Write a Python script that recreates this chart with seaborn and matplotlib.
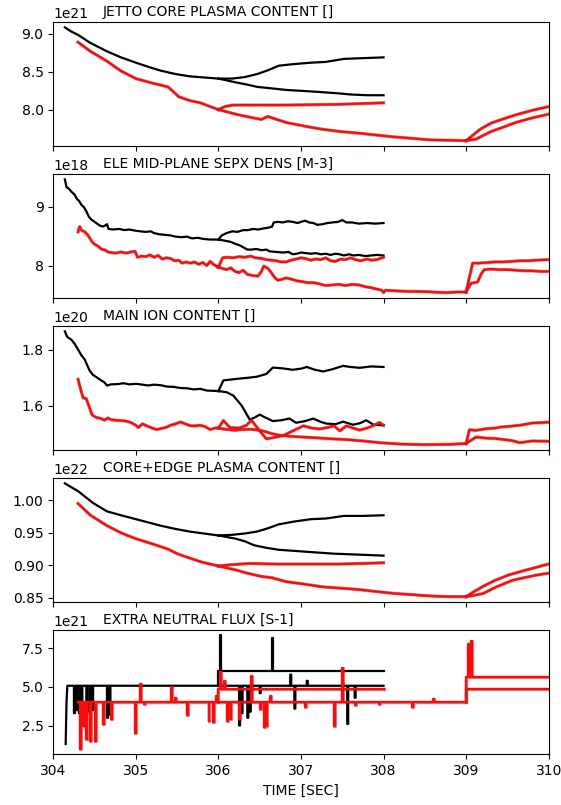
import numpy as np
import pandas as pd
import matplotlib
matplotlib.use("Agg")
import matplotlib.pyplot as plt
import matplotlib.patheffects as pe
import seaborn as sns

# ---------------- data ----------------
titles = ["JETTO CORE PLASMA CONTENT []", "ELE MID-PLANE SEPX DENS [M-3]",
          "MAIN ION CONTENT []", "CORE+EDGE PLASMA CONTENT []",
          "EXTRA NEUTRAL FLUX [S-1]"]
scales = [1e21, 1e18, 1e20, 1e22, 1e21]
xticks = [304, 305, 306, 307, 308, 309, 310]

# Panel 1: JETTO core plasma content
p1_black_base_t = [304.14, 304.22, 304.30, 304.45, 304.65, 304.82, 305.0, 305.15, 305.30, 305.48, 305.65, 305.82, 306.0]
p1_black_base_v = [9.086, 9.03, 8.987, 8.88, 8.77, 8.69, 8.62, 8.565, 8.515, 8.47, 8.44, 8.425, 8.41]
p1_black_up_t = [306.17, 306.32, 306.47, 306.6, 306.73, 306.9, 307.12, 307.3, 307.52, 307.75, 308.0]
p1_black_up_v = [8.41, 8.43, 8.47, 8.52, 8.58, 8.60, 8.62, 8.63, 8.67, 8.68, 8.69]
p1_black_low_t = [306.21, 306.35, 306.47, 306.65, 306.82, 307.05, 307.26, 307.45, 307.6, 307.8, 308.0]
p1_black_low_v = [8.36, 8.33, 8.30, 8.28, 8.26, 8.245, 8.23, 8.215, 8.20, 8.19, 8.19]
p1_red_base_t = [304.30, 304.45, 304.65, 304.82, 305.0, 305.2, 305.39, 305.45, 305.52, 305.65, 305.78, 305.9, 306.0]
p1_red_base_v = [8.89, 8.77, 8.64, 8.51, 8.41, 8.35, 8.30, 8.24, 8.17, 8.12, 8.09, 8.04, 8.0]
p1_red_up_t = [306.08, 306.17, 306.5, 306.82, 307.15, 307.47, 307.75, 308.0]
p1_red_up_v = [8.04, 8.06, 8.06, 8.06, 8.065, 8.07, 8.08, 8.09]
p1_red_low_t = [306.21, 306.38, 306.52, 306.6, 306.65, 306.82, 307.05, 307.26, 307.48, 307.69, 307.9,
                308.12, 308.35, 308.56, 308.8, 309.0]
p1_red_low_v = [7.94, 7.90, 7.87, 7.91, 7.89, 7.83, 7.78, 7.74, 7.71, 7.69, 7.665,
                7.64, 7.62, 7.60, 7.595, 7.59]
p1_red_a_t = [309.08, 309.17, 309.3, 309.43, 309.6, 309.8, 310.0]
p1_red_a_v = [7.66, 7.74, 7.82, 7.87, 7.93, 7.99, 8.04]
p1_red_b_t = [309.12, 309.21, 309.3, 309.43, 309.6, 309.8, 310.0]
p1_red_b_v = [7.61, 7.66, 7.71, 7.76, 7.83, 7.89, 7.94]

# Panel 2: electron mid-plane separatrix density
p2_black_base_t = [304.14, 304.16, 304.19, 304.22, 304.26, 304.29, 304.31, 304.34, 304.37, 304.40,
                   304.43, 304.46, 304.49, 304.52, 304.56, 304.60, 304.63, 304.65, 304.67, 304.72,
                   304.80, 304.86, 304.92, 305.0, 305.05, 305.12, 305.18, 305.22, 305.28, 305.35,
                   305.42, 305.48, 305.55, 305.62, 305.68, 305.75, 305.82, 305.9, 306.0]
p2_black_base_v = [9.46, 9.33, 9.30, 9.25, 9.20, 9.12, 9.10, 9.03, 8.99, 8.92,
                   8.83, 8.78, 8.75, 8.72, 8.68, 8.66, 8.68, 8.70, 8.62, 8.61,
                   8.62, 8.60, 8.61, 8.59, 8.58, 8.57, 8.58, 8.55, 8.53, 8.52,
                   8.51, 8.49, 8.48, 8.49, 8.46, 8.47, 8.45, 8.44, 8.44]
p2_black_up_t = [306.04, 306.1, 306.17, 306.23, 306.3, 306.36, 306.42, 306.48, 306.55, 306.6,
                 306.65, 306.67, 306.72, 306.78, 306.84, 306.90, 306.96, 307.0, 307.05, 307.1,
                 307.15, 307.2, 307.26, 307.32, 307.38, 307.45, 307.5, 307.55, 307.62, 307.7,
                 307.8, 307.9, 308.0]
p2_black_up_v = [8.51, 8.55, 8.58, 8.57, 8.60, 8.60, 8.62, 8.61, 8.63, 8.64,
                 8.66, 8.73, 8.74, 8.73, 8.75, 8.74, 8.72, 8.74, 8.76, 8.73,
                 8.72, 8.69, 8.70, 8.72, 8.73, 8.74, 8.77, 8.73, 8.73, 8.71,
                 8.72, 8.71, 8.72]
p2_black_low_t = [306.08, 306.15, 306.2, 306.26, 306.3, 306.35, 306.4, 306.46, 306.52, 306.58,
                  306.62, 306.7, 306.78, 306.85, 306.9, 306.95, 307.0, 307.06, 307.12, 307.18,
                  307.24, 307.3, 307.36, 307.42, 307.47, 307.52, 307.58, 307.64, 307.7, 307.78,
                  307.85, 307.92, 308.0]
p2_black_low_v = [8.42, 8.40, 8.37, 8.34, 8.31, 8.27, 8.27, 8.28, 8.26, 8.27,
                  8.24, 8.23, 8.22, 8.23, 8.19, 8.20, 8.22, 8.21, 8.20, 8.21,
                  8.19, 8.20, 8.18, 8.20, 8.19, 8.17, 8.19, 8.17, 8.18, 8.16,
                  8.17, 8.18, 8.17]
p2_red_base_t = [304.30, 304.32, 304.34, 304.38, 304.41, 304.44, 304.47, 304.50, 304.54, 304.58,
                 304.63, 304.66, 304.70, 304.76, 304.82, 304.88, 304.94, 304.99, 305.02, 305.07,
                 305.12, 305.17, 305.22, 305.27, 305.32, 305.37, 305.42, 305.47, 305.52, 305.56,
                 305.61, 305.66, 305.71, 305.76, 305.81, 305.86, 305.9, 305.94, 306.0]
p2_red_base_v = [8.57, 8.66, 8.60, 8.57, 8.53, 8.47, 8.40, 8.36, 8.33, 8.28,
                 8.26, 8.23, 8.22, 8.21, 8.23, 8.21, 8.23, 8.24, 8.14, 8.16,
                 8.15, 8.18, 8.14, 8.17, 8.11, 8.13, 8.12, 8.08, 8.09, 8.04,
                 8.06, 8.04, 8.06, 8.02, 8.05, 8.00, 8.07, 8.02, 7.97]
p2_red_up_t = [306.05, 306.1, 306.18, 306.25, 306.32, 306.39, 306.45, 306.52, 306.58, 306.64,
               306.7, 306.76, 306.82, 306.88, 306.94, 307.0, 307.05, 307.12, 307.18, 307.24,
               307.3, 307.36, 307.42, 307.48, 307.54, 307.6, 307.66, 307.72, 307.8, 307.86,
               307.92, 308.0]
p2_red_up_v = [8.13, 8.14, 8.13, 8.15, 8.14, 8.16, 8.13, 8.12, 8.10, 8.09,
               8.08, 8.06, 8.06, 8.09, 8.11, 8.13, 8.12, 8.09, 8.11, 8.10,
               8.13, 8.08, 8.07, 8.11, 8.10, 8.13, 8.10, 8.08, 8.11, 8.09,
               8.10, 8.14]
p2_red_low_t = [306.05, 306.1, 306.15, 306.2, 306.25, 306.3, 306.35, 306.42, 306.48, 306.52,
                306.55, 306.6, 306.64, 306.68, 306.72, 306.78, 306.82, 306.88, 306.95, 307.0,
                307.08, 307.15, 307.22, 307.3, 307.38, 307.46, 307.54, 307.62, 307.7, 307.78,
                307.86, 307.92, 307.98, 308.0, 308.02, 308.15, 308.3, 308.45, 308.6, 308.75,
                308.9, 309.0]
p2_red_low_v = [7.95, 7.93, 7.96, 7.90, 7.88, 7.92, 7.85, 7.83, 7.82, 7.90,
                7.99, 7.95, 7.88, 7.80, 7.75, 7.77, 7.79, 7.77, 7.74, 7.73,
                7.71, 7.71, 7.69, 7.66, 7.67, 7.68, 7.66, 7.68, 7.67, 7.64,
                7.62, 7.60, 7.58, 7.54, 7.58, 7.57, 7.56, 7.56, 7.55, 7.54,
                7.55, 7.55]
p2_red_a_t = [309.04, 309.08, 309.15, 309.25, 309.35, 309.45, 309.55, 309.65, 309.75, 309.85, 310.0]
p2_red_a_v = [7.80, 8.04, 8.04, 8.05, 8.06, 8.06, 8.07, 8.08, 8.08, 8.09, 8.10]
p2_red_b_t = [309.06, 309.14, 309.18, 309.22, 309.3, 309.4, 309.5, 309.6, 309.7, 309.8, 309.9, 310.0]
p2_red_b_v = [7.70, 7.72, 7.85, 7.93, 7.94, 7.93, 7.93, 7.92, 7.91, 7.91, 7.90, 7.90]

# Panel 3: main ion content
p3_black_base_t = [304.14, 304.17, 304.22, 304.26, 304.30, 304.34, 304.38, 304.41, 304.44, 304.48,
                   304.53, 304.58, 304.62, 304.65, 304.7, 304.78, 304.85, 304.92, 305.0, 305.08,
                   305.15, 305.22, 305.3, 305.38, 305.46, 305.54, 305.62, 305.7, 305.78, 305.86,
                   305.94, 306.0]
p3_black_base_v = [1.865, 1.845, 1.835, 1.82, 1.80, 1.78, 1.765, 1.745, 1.725, 1.71,
                   1.70, 1.69, 1.683, 1.672, 1.676, 1.677, 1.680, 1.676, 1.678, 1.675,
                   1.672, 1.675, 1.673, 1.668, 1.667, 1.663, 1.662, 1.658, 1.660, 1.654,
                   1.653, 1.652]
p3_black_up_t = [306.06, 306.2, 306.34, 306.46, 306.58, 306.66, 306.78, 306.9, 307.0, 307.07,
                 307.17, 307.27, 307.38, 307.51, 307.6, 307.71, 307.85, 308.0]
p3_black_up_v = [1.69, 1.695, 1.699, 1.703, 1.713, 1.736, 1.733, 1.728, 1.732, 1.738,
                 1.728, 1.722, 1.730, 1.742, 1.738, 1.735, 1.740, 1.738]
p3_black_low_t = [306.1, 306.18, 306.28, 306.38, 306.44, 306.5, 306.58, 306.66, 306.76, 306.86,
                  306.94, 307.05, 307.15, 307.24, 307.31, 307.42, 307.51, 307.63, 307.72, 307.79,
                  307.88, 308.0]
p3_black_low_v = [1.648, 1.636, 1.601, 1.55, 1.558, 1.568, 1.556, 1.545, 1.548, 1.554,
                  1.539, 1.545, 1.554, 1.542, 1.536, 1.534, 1.543, 1.532, 1.538, 1.548,
                  1.532, 1.530]
p3_red_base_t = [304.30, 304.33, 304.36, 304.40, 304.43, 304.47, 304.52, 304.57, 304.62, 304.66,
                 304.7, 304.76, 304.82, 304.88, 304.94, 305.0, 305.03, 305.08, 305.14, 305.2,
                 305.25, 305.3, 305.36, 305.42, 305.48, 305.54, 305.6, 305.66, 305.72, 305.78,
                 305.84, 305.9, 305.96, 306.0]
p3_red_base_v = [1.694, 1.66, 1.628, 1.625, 1.60, 1.567, 1.558, 1.555, 1.548, 1.556,
                 1.550, 1.548, 1.547, 1.545, 1.540, 1.530, 1.522, 1.535, 1.527, 1.520,
                 1.515, 1.518, 1.522, 1.530, 1.535, 1.542, 1.535, 1.528, 1.528, 1.530,
                 1.525, 1.515, 1.520, 1.52]
p3_red_up_t = [306.06, 306.14, 306.25, 306.34, 306.4, 306.5, 306.58, 306.65, 306.79, 306.9,
               307.03, 307.13, 307.23, 307.32, 307.4, 307.47, 307.55, 307.63, 307.71, 307.8,
               307.87, 307.95, 308.0]
p3_red_up_v = [1.547, 1.522, 1.52, 1.53, 1.548, 1.51, 1.482, 1.485, 1.494, 1.51,
               1.528, 1.52, 1.517, 1.522, 1.528, 1.51, 1.528, 1.52, 1.513, 1.52,
               1.528, 1.54, 1.53]
p3_red_low_t = [306.1, 306.2, 306.3, 306.4, 306.54, 306.65, 306.75, 306.9, 307.15, 307.35,
                307.55, 307.75, 307.95, 308.2, 308.5, 308.8, 309.0]
p3_red_low_v = [1.515, 1.512, 1.515, 1.516, 1.51, 1.50, 1.494, 1.49, 1.486, 1.482,
                1.479, 1.474, 1.468, 1.463, 1.461, 1.462, 1.465]
p3_red_a_t = [309.04, 309.12, 309.25, 309.35, 309.43, 309.55, 309.65, 309.8, 310.0]
p3_red_a_v = [1.514, 1.512, 1.518, 1.520, 1.524, 1.527, 1.53, 1.538, 1.541]
p3_red_b_t = [309.12, 309.25, 309.35, 309.43, 309.55, 309.65, 309.8, 310.0]
p3_red_b_v = [1.488, 1.484, 1.483, 1.48, 1.476, 1.468, 1.474, 1.473]

# Panel 4: core + edge plasma content
p4_black_base_t = [304.14, 304.3, 304.48, 304.65, 304.82, 305.0, 305.15, 305.3, 305.48, 305.65, 305.82, 306.0]
p4_black_base_v = [1.026, 1.014, 0.996, 0.983, 0.977, 0.971, 0.966, 0.961, 0.956, 0.952, 0.949, 0.946]
p4_black_up_t = [306.17, 306.32, 306.47, 306.6, 306.73, 306.9, 307.12, 307.3, 307.52, 307.75, 308.0]
p4_black_up_v = [0.947, 0.949, 0.952, 0.957, 0.963, 0.967, 0.971, 0.972, 0.976, 0.976, 0.977]
p4_black_low_t = [306.21, 306.32, 306.43, 306.58, 306.73, 306.95, 307.17, 307.4, 307.6, 307.8, 308.0]
p4_black_low_v = [0.941, 0.937, 0.931, 0.927, 0.924, 0.922, 0.920, 0.918, 0.917, 0.916, 0.915]
p4_red_base_t = [304.30, 304.45, 304.65, 304.82, 305.0, 305.2, 305.39, 305.5, 305.61, 305.8, 306.0]
p4_red_base_v = [0.995, 0.977, 0.961, 0.95, 0.941, 0.933, 0.925, 0.918, 0.913, 0.905, 0.899]
p4_red_up_t = [306.15, 306.39, 306.7, 307.04, 307.47, 307.75, 308.0]
p4_red_up_v = [0.901, 0.903, 0.902, 0.902, 0.902, 0.903, 0.904]
p4_red_low_t = [306.21, 306.35, 306.52, 306.65, 306.82, 307.05, 307.26, 307.48, 307.69, 307.9,
                308.12, 308.35, 308.56, 308.8, 309.0]
p4_red_low_v = [0.893, 0.888, 0.883, 0.881, 0.875, 0.871, 0.867, 0.865, 0.863, 0.86,
                0.857, 0.855, 0.853, 0.852, 0.852]
p4_red_a_t = [309.1, 309.21, 309.35, 309.51, 309.7, 309.85, 310.0]
p4_red_a_v = [0.860, 0.868, 0.877, 0.885, 0.892, 0.897, 0.902]
p4_red_b_t = [309.1, 309.21, 309.35, 309.56, 309.7, 309.85, 310.0]
p4_red_b_v = [0.854, 0.857, 0.866, 0.877, 0.881, 0.885, 0.888]

# Panel 5: extra neutral flux (levels and spikes)
flux_black_start_t = [304.15, 304.16, 304.17]
flux_black_start_v = [1.3, 4.0, 5.08]
flux_black_level = 5.08
flux_black_end = 308.0
flux_black_spike_t = [304.25, 304.28, 304.31, 304.34, 304.40, 304.44, 304.47, 304.65,
                      304.68, 306.25, 306.28, 306.35, 306.38, 306.5, 306.87, 306.92,
                      307.07, 307.5, 307.56, 307.65]
flux_black_spike_v = [3.3, 3.5, 3.3, 4.0, 3.4, 3.3, 3.5, 3.0,
                      3.2, 2.5, 3.3, 3.0, 3.4, 4.6, 5.8, 3.6,
                      5.4, 5.3, 2.6, 4.3]
flux_black2_start = 306.0
flux_black2_level = 6.05
flux_black2_spike_t = [306.02, 306.65]
flux_black2_spike_v = [8.35, 8.2]

flux_red_start = 304.3
flux_red_level = 4.0
flux_red_step_t = 309.0
flux_red_level2 = 4.85
flux_red_spike_t = [304.32, 304.36, 304.40, 304.45, 304.5, 304.6, 304.7, 304.99,
                    305.05, 305.1, 305.42, 305.47, 305.62, 305.88, 305.93, 305.97,
                    306.1, 306.14, 306.25, 306.4, 306.5, 306.55, 306.58, 306.63,
                    307.05, 307.4, 307.5, 307.65, 307.95, 308.35, 308.6]
flux_red_spike_v = [1.0, 2.5, 1.6, 1.5, 1.5, 2.6, 2.9, 2.0,
                    5.2, 3.9, 5.0, 4.3, 3.2, 2.8, 2.7, 4.4,
                    2.8, 2.9, 2.9, 5.7, 3.6, 2.4, 2.5, 4.4,
                    3.7, 2.5, 6.2, 3.8, 3.9, 3.7, 4.2]
flux_red2_start = 306.0
flux_red2_level = 4.85
flux_red2_spike_t = [306.02, 306.07]
flux_red2_spike_v = [6.0, 5.4]
flux_red3_start = 309.0
flux_red3_level = 5.65
flux_red3_spike_t = [309.02, 309.06]
flux_red3_spike_v = [7.8, 8.0]

# ---------------- helpers ----------------
def spiky(t0, t1, level, st, sv, w=0.012, prefix_t=None, prefix_v=None, start_v=None):
    ts, vs = [], []
    if prefix_t is not None:
        ts += list(prefix_t); vs += list(prefix_v)
    else:
        if start_v is not None:
            ts.append(t0); vs.append(start_v)
        ts.append(t0); vs.append(level)
    for t, v in sorted(zip(st, sv)):
        ts += [t, t, t + w, t + w]
        vs += [level, v, v, level]
    ts.append(t1); vs.append(level)
    return ts, vs


RED = "#ff0a0a"
red_fx = [pe.Stroke(linewidth=2.4, foreground="#8a2a2a", alpha=0.55), pe.Normal()]


def draw(ax, t, v, color, scale):
    df = pd.DataFrame({"t": t, "v": np.array(v) * scale})
    kw = {}
    if color == RED:
        kw["path_effects"] = red_fx
    sns.lineplot(data=df, x="t", y="v", ax=ax, color=color, lw=1.6,
                 estimator=None, sort=False, **kw)


def joined(parent_t, parent_v, t, v):
    return [parent_t[-1]] + list(t), [parent_v[-1]] + list(v)


panels = [
    (p1_black_base_t, p1_black_base_v, p1_black_up_t, p1_black_up_v, p1_black_low_t, p1_black_low_v,
     p1_red_base_t, p1_red_base_v, p1_red_up_t, p1_red_up_v, p1_red_low_t, p1_red_low_v,
     p1_red_a_t, p1_red_a_v, p1_red_b_t, p1_red_b_v),
    (p2_black_base_t, p2_black_base_v, p2_black_up_t, p2_black_up_v, p2_black_low_t, p2_black_low_v,
     p2_red_base_t, p2_red_base_v, p2_red_up_t, p2_red_up_v, p2_red_low_t, p2_red_low_v,
     p2_red_a_t, p2_red_a_v, p2_red_b_t, p2_red_b_v),
    (p3_black_base_t, p3_black_base_v, p3_black_up_t, p3_black_up_v, p3_black_low_t, p3_black_low_v,
     p3_red_base_t, p3_red_base_v, p3_red_up_t, p3_red_up_v, p3_red_low_t, p3_red_low_v,
     p3_red_a_t, p3_red_a_v, p3_red_b_t, p3_red_b_v),
    (p4_black_base_t, p4_black_base_v, p4_black_up_t, p4_black_up_v, p4_black_low_t, p4_black_low_v,
     p4_red_base_t, p4_red_base_v, p4_red_up_t, p4_red_up_v, p4_red_low_t, p4_red_low_v,
     p4_red_a_t, p4_red_a_v, p4_red_b_t, p4_red_b_v),
]

# ---------------- figure ----------------
fig, axes = plt.subplots(5, 1, figsize=(5.61, 8.05), dpi=100, sharex=True)
fig.subplots_adjust(left=0.095, right=0.978, top=0.973, bottom=0.063, hspace=0.22)

for i, p in enumerate(panels):
    ax = axes[i]
    sc = scales[i]
    (bbt, bbv, but, buv, blt, blv, rbt, rbv, rut, ruv, rlt, rlv, rat, rav, rbt2, rbv2) = p
    draw(ax, bbt, bbv, "black", sc)
    draw(ax, *joined(bbt, bbv, but, buv), "black", sc)
    draw(ax, *joined(bbt, bbv, blt, blv), "black", sc)
    draw(ax, rbt, rbv, RED, sc)
    draw(ax, *joined(rbt, rbv, rut, ruv), RED, sc)
    draw(ax, *joined(rbt, rbv, rlt, rlv), RED, sc)
    draw(ax, *joined(rlt, rlv, rat, rav), RED, sc)
    draw(ax, *joined(rlt, rlv, rbt2, rbv2), RED, sc)

# flux panel
ax = axes[4]
sc = scales[4]
t, v = spiky(304.17, flux_black_end, flux_black_level, flux_black_spike_t, flux_black_spike_v,
             prefix_t=flux_black_start_t, prefix_v=flux_black_start_v)
draw(ax, t, v, "black", sc)
t, v = spiky(flux_black2_start, flux_black_end, flux_black2_level, flux_black2_spike_t,
             flux_black2_spike_v, start_v=flux_black_level)
draw(ax, t, v, "black", sc)
t, v = spiky(flux_red_start, flux_red_step_t, flux_red_level, flux_red_spike_t, flux_red_spike_v)
t += [flux_red_step_t, 310.0]
v += [flux_red_level2, flux_red_level2]
draw(ax, t, v, RED, sc)
t, v = spiky(flux_red2_start, flux_black_end, flux_red2_level, flux_red2_spike_t,
             flux_red2_spike_v, start_v=flux_red_level)
draw(ax, t, v, RED, sc)
t, v = spiky(flux_red3_start, 310.0, flux_red3_level, flux_red3_spike_t,
             flux_red3_spike_v, start_v=flux_red_level)
draw(ax, t, v, RED, sc)

for i, ax in enumerate(axes):
    ax.set_xlabel("")
    ax.set_ylabel("")
    ax.text(0.1, 1.025, titles[i], transform=ax.transAxes, ha="left", va="bottom", fontsize=10)

axes[0].set_xlim(304, 310)
axes[4].set_xticks(xticks)
axes[4].set_xlabel("TIME [SEC]")

fig.savefig("out.png", dpi=100)
